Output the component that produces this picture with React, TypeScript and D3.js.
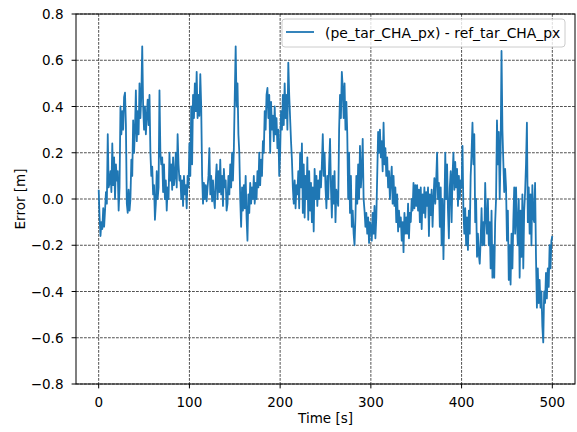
import React from "react";
import * as d3 from "d3";

// Time step of the series (s) and the error values
const timeStep = 1;
const errorValues: number[] = [
  // 0-9
  0.04, -0.08, -0.16, -0.1, -0.13, -0.04, -0.12, -0.05, 0.03, -0.02,
  // 10-19
  0.28, 0.05, 0.07, 0.12, 0.03, 0.24, 0.06, 0.18, 0.0, 0.15,
  // 20-29
  0.08, 0.12, -0.05, 0.05, 0.4, 0.28, 0.38, 0.3, 0.44, 0.46,
  // 30-39
  0.32, -0.02, -0.06, 0.04, -0.05, 0.0, 0.17, 0.1, 0.34, 0.2,
  // 40-49
  0.3, 0.47, 0.25, 0.38, 0.28, 0.5, 0.35, 0.45, 0.66, 0.4,
  // 50-59
  0.3, 0.4, 0.28, 0.36, 0.43, 0.32, 0.45, 0.2, 0.1, 0.14,
  // 60-69
  0.02, 0.06, -0.09, -0.02, 0.12, 0.0, 0.05, 0.47, 0.2, 0.15,
  // 70-79
  0.18, 0.03, 0.15, 0.0, 0.08, -0.05, 0.05, 0.0, 0.2, 0.08,
  // 80-89
  0.15, 0.04, 0.18, 0.06, 0.1, 0.2, 0.05, 0.28, 0.15, 0.08,
  // 90-99
  0.1, 0.0, 0.08, -0.03, 0.1, 0.02, 0.06, -0.04, 0.1, 0.05,
  // 100-109
  0.24, 0.1, 0.4, 0.15, 0.45, 0.35, 0.5, 0.38, 0.55, 0.35,
  // 110-119
  0.45, 0.36, 0.54, 0.4, 0.1, -0.02, 0.07, 0.0, 0.06, -0.01,
  // 120-129
  0.05, 0.1, 0.22, 0.02, 0.1, -0.01, 0.08, 0.0, -0.04, 0.08,
  // 130-139
  0.15, 0.0, 0.12, 0.03, 0.17, 0.02, 0.1, -0.03, 0.13, 0.05,
  // 140-149
  0.08, -0.05, -0.02, 0.1, 0.02, 0.15, 0.05, 0.2, 0.08, 0.22,
  // 150-159
  0.45, 0.66, 0.4, 0.5, 0.28, 0.2, 0.0, -0.12, 0.05, -0.05,
  // 160-169
  0.06, -0.04, 0.1, -0.08, -0.18, 0.02, -0.06, 0.07, -0.02, 0.05,
  // 170-179
  0.0, 0.1, -0.02, 0.07, 0.0, 0.12, 0.05, 0.2, 0.06, 0.17,
  // 180-189
  0.1, 0.25, 0.2, 0.38, 0.3, 0.45, 0.48, 0.35, 0.45, 0.2,
  // 190-199
  0.42, 0.3, 0.36, 0.25, 0.4, 0.28, 0.35, 0.22, 0.3, 0.1,
  // 200-209
  0.2, 0.38, 0.3, 0.45, 0.32, 0.5, 0.35, 0.45, 0.3, 0.59,
  // 210-219
  0.45, 0.35, 0.25, 0.17, 0.05, -0.02, 0.08, -0.04, 0.06, 0.02,
  // 220-229
  0.12, -0.04, 0.2, 0.05, 0.24, -0.06, 0.15, -0.08, 0.1, 0.0,
  // 230-239
  0.18, -0.09, 0.12, -0.05, 0.07, -0.1, 0.05, -0.14, 0.13, 0.0,
  // 240-249
  0.1, -0.03, 0.08, 0.0, 0.12, 0.05, 0.15, 0.28, 0.1, 0.2,
  // 250-259
  0.05, -0.04, 0.1, 0.0, 0.15, 0.26, 0.05, -0.08, 0.1, -0.02,
  // 260-269
  0.12, -0.1, 0.04, 0.0, -0.03, 0.3, 0.45, 0.35, 0.55, 0.48,
  // 270-279
  0.35, 0.5, 0.3, 0.42, 0.28, 0.0, 0.2, -0.06, 0.1, -0.12,
  // 280-289
  -0.05, -0.15, -0.2, -0.08, 0.1, -0.02, 0.15, 0.0, 0.23, 0.05,
  // 290-299
  0.12, 0.26, 0.0, -0.05, -0.12, -0.06, -0.15, -0.08, -0.19, -0.1,
  // 300-309
  -0.12, -0.18, -0.06, -0.15, -0.03, -0.17, -0.08, 0.1, 0.29, 0.2,
  // 310-319
  0.3, 0.18, 0.25, 0.12, 0.33, 0.15, 0.22, 0.1, 0.18, 0.05,
  // 320-329
  0.12, 0.0, 0.08, 0.14, -0.02, 0.1, -0.03, 0.05, -0.1, 0.02,
  // 330-339
  -0.14, -0.05, -0.12, -0.08, -0.18, -0.1, -0.23, -0.06, -0.15, -0.08,
  // 340-349
  -0.15, -0.02, -0.17, -0.06, -0.1, 0.0, -0.05, 0.07, -0.04, 0.06,
  // 350-359
  -0.03, 0.06, -0.05, 0.04, -0.1, 0.05, -0.13, 0.02, -0.06, 0.05,
  // 360-369
  -0.08, 0.03, -0.03, 0.05, -0.16, 0.02, -0.07, 0.04, -0.12, 0.0,
  // 370-379
  0.09, -0.02, 0.08, 0.2, 0.0, 0.07, -0.12, 0.05, -0.2, 0.0,
  // 380-389
  -0.26, -0.05, 0.2, 0.0, 0.15, -0.05, -0.17, 0.05, 0.12, -0.1,
  // 390-399
  0.1, 0.2, 0.04, 0.16, 0.05, 0.13, -0.03, 0.1, 0.0, 0.08,
  // 400-409
  0.05, 0.23, -0.05, -0.15, -0.04, -0.2, -0.08, -0.22, -0.05, -0.15,
  // 410-419
  0.1, 0.2, 0.33, 0.15, 0.28, -0.1, 0.0, -0.25, -0.15, -0.24,
  // 420-429
  -0.28, -0.18, -0.04, -0.2, -0.1, -0.2, 0.07, -0.08, -0.15, 0.0,
  // 430-439
  -0.2, -0.1, -0.3, -0.05, -0.34, -0.2, -0.34, -0.1, 0.0, 0.34,
  // 440-449
  0.15, 0.29, 0.0, 0.2, 0.64, 0.3, 0.16, 0.03, 0.13, 0.05,
  // 450-459
  -0.18, -0.05, -0.35, -0.2, -0.37, -0.15, -0.3, -0.1, 0.05, -0.15,
  // 460-469
  0.05, -0.1, -0.2, 0.0, -0.34, -0.05, -0.25, 0.02, -0.3, -0.05,
  // 470-479
  0.03, 0.15, 0.33, -0.1, 0.05, -0.15, 0.02, -0.2, 0.06, -0.08,
  // 480-489
  -0.1, 0.07, -0.25, -0.47, -0.3, -0.45, -0.35, -0.47, -0.4, -0.55,
  // 490-499
  -0.62, -0.4, -0.45, -0.32, -0.43, -0.3, -0.38, -0.2, -0.3, -0.18,
  // 500
  -0.16,
];

const xTicks = [0, 100, 200, 300, 400, 500];
const yTicks = [-0.8, -0.6, -0.4, -0.2, 0.0, 0.2, 0.4, 0.6, 0.8];
const xLabel = "Time [s]";
const yLabel = "Error [m]";
const seriesName = "(pe_tar_CHA_px) - ref_tar_CHA_px";

const W = 577;
const H = 432;
const M = { left: 76, right: 575, top: 14, bottom: 384 };
const FONT = "'DejaVu Sans', sans-serif";
const FS = 13.5;

export default function App() {
  const x = d3.scaleLinear().domain([-25, 525]).range([M.left, M.right]);
  const y = d3.scaleLinear().domain([-0.8, 0.8]).range([M.bottom, M.top]);
  const data = errorValues.map((v, i) => [i * timeStep, v] as [number, number]);
  const line = d3
    .line<[number, number]>()
    .x((d) => x(d[0]))
    .y((d) => y(d[1]));

  const fmtY = (v: number) => {
    const s = Math.abs(v).toFixed(1);
    return v < -1e-9 ? "\u2212" + s : s;
  };

  return (
    <svg
      width={W}
      height={H}
      style={{ position: "absolute", left: 0, top: 0, background: "#fff" }}
      fontFamily={FONT}
    >
      <rect x={0} y={0} width={W} height={H} fill="#fff" />
      <defs>
        <clipPath id="plotClip">
          <rect x={M.left} y={M.top} width={M.right - M.left} height={M.bottom - M.top} />
        </clipPath>
      </defs>
      {/* grid */}
      <g stroke="#000" strokeWidth={0.8} strokeDasharray="2.8,1.2" opacity={0.85}>
        {xTicks.map((t) => (
          <line key={"gx" + t} x1={x(t)} x2={x(t)} y1={M.top} y2={M.bottom} />
        ))}
        {yTicks.map((t) => (
          <line key={"gy" + t} x1={M.left} x2={M.right} y1={y(t)} y2={y(t)} />
        ))}
      </g>
      {/* series */}
      <path
        d={line(data) || ""}
        fill="none"
        stroke="#1f77b4"
        strokeWidth={1.8}
        strokeLinejoin="round"
        clipPath="url(#plotClip)"
      />
      {/* spines */}
      <rect
        x={M.left}
        y={M.top}
        width={M.right - M.left}
        height={M.bottom - M.top}
        fill="none"
        stroke="#000"
        strokeWidth={1}
      />
      {/* ticks and labels */}
      <g fontSize={FS} fill="#000">
        {xTicks.map((t) => (
          <g key={"xt" + t}>
            <line x1={x(t)} x2={x(t)} y1={M.bottom} y2={M.bottom + 4.4} stroke="#000" strokeWidth={1} />
            <text x={x(t)} y={407} textAnchor="middle">
              {String(t)}
            </text>
          </g>
        ))}
        {yTicks.map((t) => (
          <g key={"yt" + t}>
            <line x1={M.left - 4.4} x2={M.left} y1={y(t)} y2={y(t)} stroke="#000" strokeWidth={1} />
            <text x={63.5} y={y(t)} textAnchor="end" dominantBaseline="central">
              {fmtY(t)}
            </text>
          </g>
        ))}
        <text x={(M.left + M.right) / 2} y={423} textAnchor="middle">
          {xLabel}
        </text>
        <text
          transform={`translate(25, ${(M.top + M.bottom) / 2}) rotate(-90)`}
          textAnchor="middle"
        >
          {yLabel}
        </text>
      </g>
      {/* legend */}
      <g>
        <rect
          x={282}
          y={19}
          width={283}
          height={28}
          rx={3}
          fill="#fff"
          fillOpacity={0.8}
          stroke="#ccc"
          strokeWidth={1}
        />
        <line x1={286} x2={314} y1={32} y2={32} stroke="#1f77b4" strokeWidth={1.8} />
        <text x={325} y={37.5} fontSize={13.9} fill="#000">
          {seriesName}
        </text>
      </g>
    </svg>
  );
}
